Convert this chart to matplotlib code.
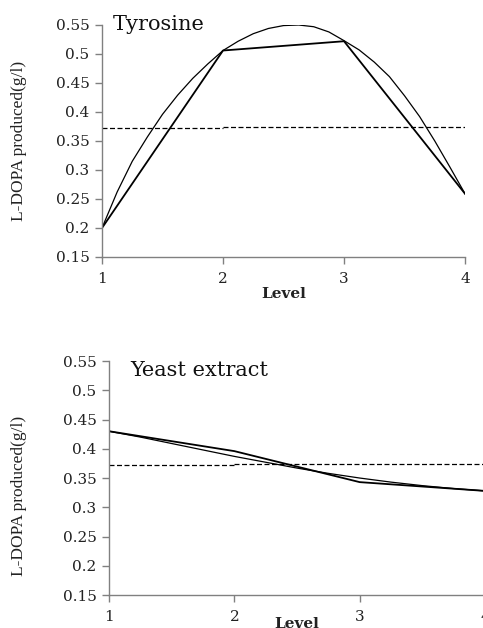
import matplotlib.pyplot as plt

# levels of each factor
levels = [1, 2, 3, 4]

# Tyrosine: mean response per level and the smoothed curve
tyr_means = [0.200, 0.506, 0.522, 0.259]
tyr_curve_x = [1.0, 1.125, 1.25, 1.375, 1.5, 1.625, 1.75, 1.875, 2.0, 2.125, 2.25, 2.375, 2.5,
               2.625, 2.75, 2.875, 3.0, 3.125, 3.25, 3.375, 3.5, 3.625, 3.75, 3.875, 4.0]
tyr_curve_y = [0.200, 0.262, 0.315, 0.357, 0.396, 0.429, 0.458, 0.483, 0.506, 0.522, 0.535, 0.544, 0.549,
               0.550, 0.547, 0.538, 0.523, 0.507, 0.486, 0.461, 0.428, 0.392, 0.350, 0.305, 0.259]
tyr_grand_mean = [0.3718, 0.3736]

# Yeast extract
yeast_means = [0.430, 0.396, 0.343, 0.328]
yeast_curve_x = [1.0, 1.25, 1.5, 1.75, 2.0, 2.25, 2.5, 2.75, 3.0, 3.25, 3.5, 3.75, 4.0]
yeast_curve_y = [0.430, 0.420, 0.409, 0.398, 0.387, 0.377, 0.367, 0.358, 0.350, 0.343, 0.337, 0.332, 0.328]
yeast_grand_mean = [0.372, 0.374]

y_ticks = [0.15, 0.2, 0.25, 0.3, 0.35, 0.4, 0.45, 0.5, 0.55]
y_tick_labels = ["0.15", "0.2", "0.25", "0.3", "0.35", "0.4", "0.45", "0.5", "0.55"]

plt.rcParams['font.family'] = ['DejaVu Serif']


def draw_panel(ax, title, means, cx, cy, gmean, dash_end, title_pos, ylab_pos, xlab_pos):
    ax.plot(levels, means, color='black', lw=1.3)
    ax.plot(cx, cy, color='black', lw=0.9)
    ax.plot([1, 2], [gmean[0], gmean[0]], color='black', lw=0.9, ls=(0, (4, 2)))
    ax.plot([2, dash_end], [gmean[1], gmean[1]], color='black', lw=0.9, ls=(0, (4, 2)))

    ax.set_xlim(1, 4)
    ax.set_ylim(0.15, 0.55)
    ax.set_xticks(levels)
    ax.set_yticks(y_ticks)
    ax.set_yticklabels(y_tick_labels)
    ax.tick_params(axis='both', direction='out', length=5, width=1, color='#808080',
                   labelsize=11, labelcolor='#222222')
    ax.tick_params(axis='x', pad=6)
    ax.tick_params(axis='y', pad=4)
    for s in ['top', 'right']:
        ax.spines[s].set_visible(False)
    for s in ['left', 'bottom']:
        ax.spines[s].set_color('#808080')
        ax.spines[s].set_linewidth(1)

    ax.text(title_pos[0], title_pos[1], title, transform=ax.transAxes, fontsize=15,
            va='center', ha='left', color='#111111', clip_on=False)
    ax.set_ylabel("L-DOPA produced(g/l)", fontsize=12.5, color='#222222',
                  family=['Liberation Serif'])
    ax.yaxis.set_label_coords(ylab_pos[0], ylab_pos[1])
    ax.set_xlabel("Level", fontsize=11, fontweight='bold', color='#222222')
    ax.xaxis.set_label_coords(xlab_pos[0], xlab_pos[1])
    ax.patch.set_alpha(0)


fig = plt.figure(figsize=(4.83, 6.28), dpi=100)
ax1 = fig.add_axes([0.2112, 0.5908, 0.7516, 0.3694])
ax2 = fig.add_axes([0.2257, 0.0525, 0.7785, 0.3726])

draw_panel(ax1, "Tyrosine", tyr_means, tyr_curve_x, tyr_curve_y, tyr_grand_mean, 4.02,
           (0.03, 1.0), (-0.207, 0.5), (0.5, -0.128))
draw_panel(ax2, "Yeast extract", yeast_means, yeast_curve_x, yeast_curve_y, yeast_grand_mean, 4.0,
           (0.056, 0.96), (-0.217, 0.423), (0.5, -0.094))

fig.savefig("out.png", dpi=100)
